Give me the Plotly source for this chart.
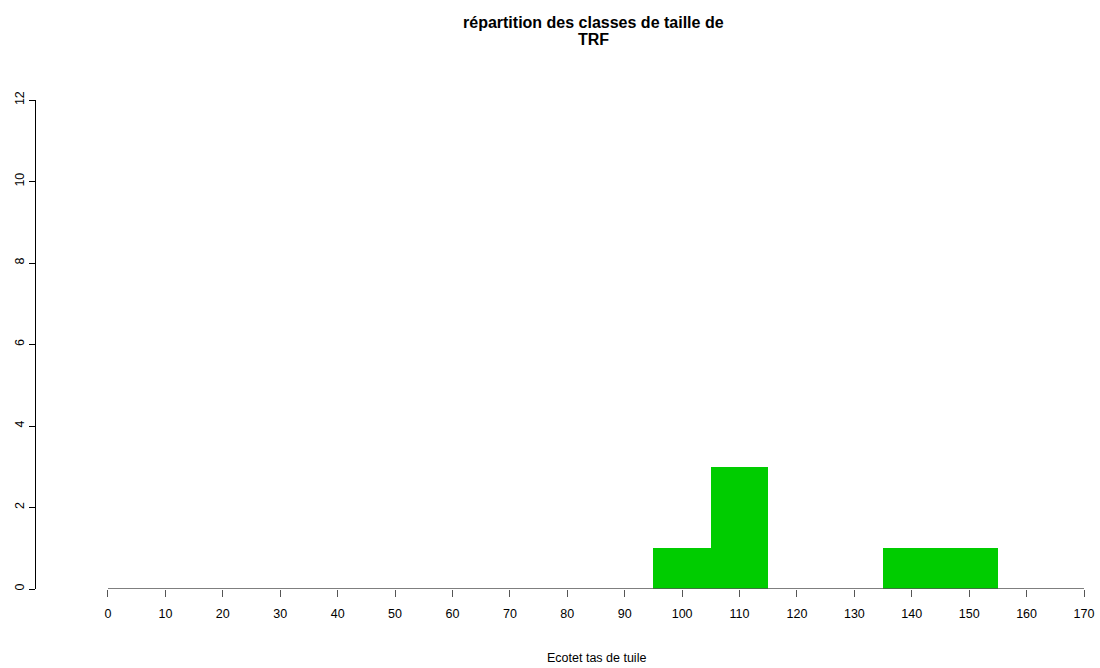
import plotly.graph_objects as go

# Data
class_centers = [100, 110, 140, 150]
counts = [1, 3, 1, 1]
x_ticks = list(range(0, 171, 10))
y_ticks = [0, 2, 4, 6, 8, 10, 12]
title_line1 = "répartition des classes de taille de"
title_line2 = "TRF"
x_label = "Ecotet tas de tuile"

FONT = "Liberation Sans, Arial, sans-serif"

fig = go.Figure()
fig.add_trace(go.Bar(
    x=class_centers, y=counts, width=10,
    marker=dict(color="#00CC00", line=dict(width=0)),
    showlegend=False,
))

fig.update_layout(
    width=1100, height=668,
    margin=dict(l=36, r=16, t=100, b=79, autoexpand=False),
    plot_bgcolor="white", paper_bgcolor="white",
    font=dict(family=FONT, size=12, color="black"),
    bargap=0,
    xaxis=dict(
        range=[-12.54, 170], showgrid=False, zeroline=False, showline=False,
        automargin=False,
        tickmode="array", tickvals=x_ticks, ticktext=[str(v) for v in x_ticks],
        ticks="outside", ticklen=7, tickwidth=1.3, tickcolor="#555555",
        ticklabelstandoff=6,
        tickfont=dict(size=12.5, family=FONT, color="black"),
    ),
    yaxis=dict(
        range=[0, 12], showgrid=False, zeroline=False, showline=True,
        automargin=False,
        linecolor="black", linewidth=1,
        tickmode="array", tickvals=y_ticks, ticktext=[str(v) for v in y_ticks],
        ticks="outside", ticklen=6, tickwidth=1, tickcolor="black",
        tickangle=-90, tickfont=dict(size=12.5, family=FONT, color="black"),
    ),
    shapes=[dict(type="line", xref="x", yref="y", x0=0, x1=170, y0=0, y1=0,
                 line=dict(color="#555555", width=1.5))],
    annotations=[
        dict(text="<b>" + title_line1 + "</b>", xref="x", yref="paper",
             x=84.6, y=1.1595, xanchor="center", yanchor="middle", showarrow=False,
             font=dict(size=16, family=FONT, color="black")),
        dict(text="<b>" + title_line2 + "</b>", xref="x", yref="paper",
             x=84.6, y=1.1247, xanchor="center", yanchor="middle", showarrow=False,
             font=dict(size=16, family=FONT, color="black")),
        dict(text=x_label, xref="x", yref="paper", x=85, y=-0.141,
             xanchor="center", yanchor="middle", showarrow=False,
             font=dict(size=12.5, family=FONT, color="black")),
    ],
)

fig.write_html("out.html", config={"displayModeBar": False},
               post_script="document.body.style.margin='0';document.body.style.padding='0';")
